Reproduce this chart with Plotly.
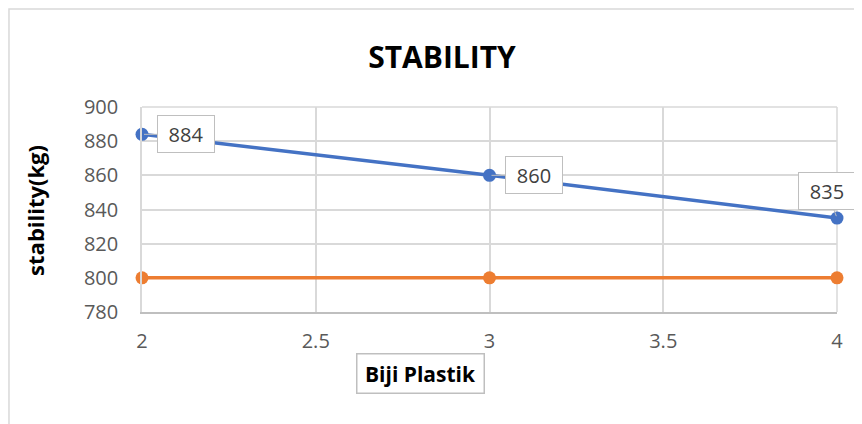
import plotly.graph_objects as go

x_vals = [2, 3, 4]
stability = [884, 860, 835]
standard = [800, 800, 800]
x_ticks = [2, 2.5, 3, 3.5, 4]
y_ticks = [780, 800, 820, 840, 860, 880, 900]

BLUE = "#4472C4"
ORANGE = "#ED7D31"
GRID = "#D9D9D9"
FONT = "Open Sans"

fig = go.Figure()
fig.add_trace(go.Scatter(x=x_vals, y=standard, mode="lines+markers",
                         line=dict(color=ORANGE, width=3.5),
                         marker=dict(color=ORANGE, size=13), showlegend=False, cliponaxis=False))
fig.add_trace(go.Scatter(x=x_vals, y=stability, mode="lines+markers",
                         line=dict(color=BLUE, width=3.5),
                         marker=dict(color=BLUE, size=13), showlegend=False, cliponaxis=False))

offsets = [(44, 0), (44, 0), (-10, -27)]
for xv, yv, (ax, ay) in zip(x_vals, stability, offsets):
    fig.add_annotation(x=xv, y=yv, text=str(yv), showarrow=True, ax=ax, ay=ay,
                       arrowhead=0, arrowwidth=1, arrowcolor="#BFBFBF", standoff=2,
                       font=dict(family=FONT, size=20, color="#404040"),
                       width=50, height=30,
                       bgcolor="white", bordercolor="#BFBFBF", borderwidth=1, borderpad=3)

# axis titles
fig.add_annotation(xref="paper", yref="paper", x=0.400, y=-0.302, xanchor="center", yanchor="middle",
                   text="<b>Biji Plastik</b>",
                   showarrow=False, font=dict(family=FONT, size=21, color="black"),
                   width=120, height=32,
                   bordercolor="#BFBFBF", borderwidth=1.5, borderpad=3, bgcolor="white")
fig.add_annotation(xref="paper", yref="paper", x=-0.154, y=0.498, xanchor="center", yanchor="middle",
                   text="<b>stability(kg)</b>",
                   showarrow=False, textangle=-90, font=dict(family=FONT, size=22, color="black"))

# outer chart border
fig.add_shape(type="rect", xref="paper", yref="paper", x0=-0.1914, x1=1.3, y0=-2, y1=1.478,
              line=dict(color=GRID, width=1.5), layer="below")

fig.update_layout(
    width=862, height=424,
    margin=dict(l=134, r=33, t=99, b=120),
    paper_bgcolor="white", plot_bgcolor="white",
    title=dict(text="<b>STABILITY</b>", x=0.5035, y=0.884, xref="container", yref="container",
               xanchor="center", yanchor="middle",
               font=dict(family=FONT, size=30, color="black")),
    xaxis=dict(range=[2, 4], tickvals=x_ticks, ticktext=[str(t) for t in x_ticks],
               showgrid=True, gridcolor=GRID, gridwidth=1.5,
               showline=True, linecolor="#BFBFBF", linewidth=1.5,
               zeroline=False, ticks="", ticklabelstandoff=10,
               tickfont=dict(family=FONT, size=20, color="#595959")),
    yaxis=dict(range=[780, 900], tickvals=y_ticks,
               showgrid=True, gridcolor=GRID, gridwidth=1.5,
               showline=True, linecolor=GRID, linewidth=1.5,
               zeroline=False, ticks="", ticklabelstandoff=18,
               tickfont=dict(family=FONT, size=20, color="#595959")),
)
fig.add_shape(type="line", xref="paper", yref="paper", x0=1, x1=1, y0=0, y1=1,
              line=dict(color=GRID, width=1.5), layer="below")
fig.add_shape(type="line", xref="paper", yref="paper", x0=0, x1=1, y0=1, y1=1,
              line=dict(color=GRID, width=1.5), layer="below")

fig.write_html("out.html")
